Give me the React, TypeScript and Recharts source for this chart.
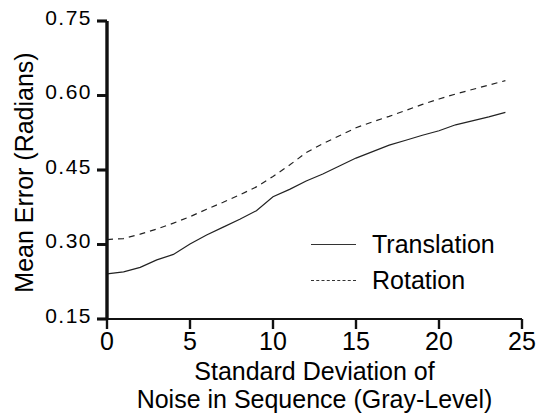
import { LineChart, Line, XAxis, YAxis, Label, ReferenceLine } from 'recharts';

const noiseLevels = [0, 1, 2, 3, 4, 5, 6, 7, 8, 9, 10, 11, 12, 13, 14, 15, 16, 17, 18, 19, 20, 21, 22, 23, 24];
const translationError = [
  0.241, 0.245, 0.254, 0.269, 0.28, 0.301, 0.319, 0.335, 0.351, 0.368, 0.396, 0.411, 0.428, 0.442, 0.458,
  0.474, 0.487, 0.5, 0.51, 0.52, 0.529, 0.541, 0.549, 0.557, 0.566,
];
const rotationError = [
  0.31, 0.312, 0.321, 0.331, 0.343, 0.356, 0.371, 0.385, 0.4, 0.416, 0.437, 0.46, 0.485, 0.503, 0.519,
  0.535, 0.547, 0.558, 0.57, 0.582, 0.593, 0.603, 0.612, 0.621, 0.63,
];
const xTicks = [0, 5, 10, 15, 20, 25];
const yTicks = [0.15, 0.3, 0.45, 0.6, 0.75];
const seriesNames = ['Translation', 'Rotation'];

const data = noiseLevels.map((n, i) => ({
  noise: n,
  translation: translationError[i],
  rotation: rotationError[i],
}));

const FONT = '"Liberation Sans", Arial, Helvetica, sans-serif';
const TICK = 10;
const X_GAP = 4;
const Y_GAP = 5;

function YTick({ x, y, payload }: any) {
  const ax = x + Y_GAP + TICK;
  return (
    <g>
      <path d={`M${ax - TICK},${y}H${ax}`} stroke="#111" strokeWidth={2.5} fill="none" />
      <text
        x={x}
        y={y}
        dy={3.5}
        textAnchor="end"
        fontFamily={FONT}
        fontSize={21}
        letterSpacing={1.5}
        fill="#000"
        stroke="none"
      >
        {payload.value.toFixed(2)}
      </text>
    </g>
  );
}

function XTick({ x, y, payload }: any) {
  const ay = y - X_GAP - TICK;
  return (
    <g>
      <path d={`M${x},${ay}V${ay + TICK}`} stroke="#111" strokeWidth={2.2} fill="none" />
      <text x={x} y={y} dy={17} textAnchor="middle" fontFamily={FONT} fontSize={25} fill="#000" stroke="none">
        {payload.value}
      </text>
    </g>
  );
}

// legend kept as plain html on top of the chart
function LegendBox() {
  const borders = ['1px solid #333', '1px dashed #333'];
  return (
    <div style={{ position: 'absolute', left: 311, top: 226, fontFamily: FONT, fontSize: 25, color: '#000' }}>
      {seriesNames.map((name, i) => (
        <div key={name} style={{ display: 'flex', alignItems: 'center', height: 36 }}>
          <div style={{ width: 45, height: 0, borderTop: borders[i], marginRight: 16 }} />
          <span style={{ lineHeight: '36px' }}>{name}</span>
        </div>
      ))}
    </div>
  );
}

export default function App() {
  return (
    <div style={{ position: 'absolute', left: 0, top: 0, width: 537, height: 414 }}>
      <LineChart width={537} height={414} data={data} margin={{ top: 21, right: 15, bottom: 65, left: 0 }}>
        <XAxis
          dataKey="noise"
          type="number"
          domain={[0, 25]}
          ticks={xTicks}
          height={30}
          tickSize={TICK}
          tickMargin={X_GAP}
          tick={<XTick />}
          stroke="#111"
          strokeWidth={2.2}
        >
          <Label
            content={({ viewBox }: any) => {
              const cx = viewBox.x + viewBox.width / 2;
              return (
                <text textAnchor="middle" fontFamily={FONT} fontSize={25} fill="#000">
                  <tspan x={cx} y={viewBox.y + 61}>Standard Deviation of</tspan>
                  <tspan x={cx} y={viewBox.y + 89}>Noise in Sequence (Gray-Level)</tspan>
                </text>
              );
            }}
          />
        </XAxis>
        <YAxis
          type="number"
          domain={[0.15, 0.75]}
          ticks={yTicks}
          width={107}
          tickSize={TICK}
          tickMargin={Y_GAP}
          tick={<YTick />}
          stroke="#111"
          strokeWidth={2.8}
        >
          <Label
            content={({ viewBox }: any) => {
              const tx = viewBox.x + 33;
              const ty = viewBox.y + viewBox.height / 2 + 2.5;
              return (
                <text
                  x={tx}
                  y={ty}
                  textAnchor="middle"
                  fontFamily={FONT}
                  fontSize={25}
                  fill="#000"
                  transform={`rotate(-90, ${tx}, ${ty})`}
                >
                  Mean Error (Radians)
                </text>
              );
            }}
          />
        </YAxis>
        <ReferenceLine x={xTicks[0]} stroke="#111" strokeWidth={3} ifOverflow="visible" />
        <ReferenceLine y={yTicks[0]} stroke="#111" strokeWidth={2.2} ifOverflow="visible" />
        <Line
          type="linear"
          dataKey="translation"
          name={seriesNames[0]}
          stroke="#222"
          strokeWidth={1.2}
          dot={false}
          isAnimationActive={false}
        />
        <Line
          type="linear"
          dataKey="rotation"
          name={seriesNames[1]}
          stroke="#222"
          strokeWidth={1.2}
          strokeDasharray="6 5"
          dot={false}
          isAnimationActive={false}
        />
      </LineChart>
      <LegendBox />
    </div>
  );
}
